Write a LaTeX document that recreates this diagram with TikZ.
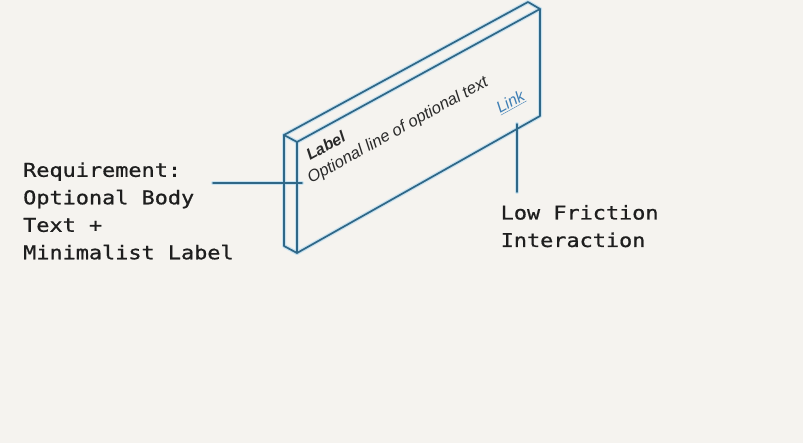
\documentclass[tikz,border=0pt]{standalone}
\usepackage{fontspec}
\setmainfont{Liberation Sans}
\newfontfamily\monof[FakeStretch=1.15,FakeBold=0.8]{DejaVu Sans Mono}
\definecolor{bgc}{HTML}{F5F3EF}
\definecolor{edgec}{HTML}{2F6787}
\definecolor{glowc}{HTML}{B4DAF0}
\definecolor{inkc}{HTML}{1E1E1E}
\definecolor{facetext}{HTML}{2A2A2A}
\definecolor{linkc}{HTML}{3F7FB5}
\tikzset{
  glowline/.style={draw=glowc, line width=4pt, line join=round, line cap=round, opacity=0.7},
  edgeline/.style={draw=edgec, line width=1.7pt, line join=round, line cap=round},
  monotext/.style={anchor=base west, align=left, inner sep=0pt, text=inkc,
    font=\monof\fontsize{19}{27.5}\selectfont},
  facelabel/.style={anchor=base west, inner sep=0pt, rotate=29, text=facetext}
}
\begin{document}
\begin{tikzpicture}[x=1pt,y=-1pt]
\fill[bgc] (0,0) rectangle (803,443);
\useasboundingbox (0,0) rectangle (803,443);
% slab corners
\coordinate (A) at (297,142);
\coordinate (B) at (540,9);
\coordinate (C) at (540,116);
\coordinate (D) at (297,253);
\coordinate (A2) at (284,135);
\coordinate (B2) at (528,2);
\coordinate (D2) at (284,246);
% connector ends
\coordinate (reqend) at (213,183);
\coordinate (faceend) at (302,183);
\coordinate (linktop) at (517,124);
\coordinate (linkbot) at (517,192);
% glow + edges
\foreach \s in {glowline,edgeline}{
  \path[\s] (A) -- (B) -- (C) -- (D) -- cycle;
  \path[\s] (A) -- (A2) -- (B2) -- (B);
  \path[\s] (A2) -- (D2) -- (D);
  \path[\s] (reqend) -- (faceend);
  \path[\s] (linktop) -- (linkbot);
}
% texts on the face
\node[facelabel, font=\bfseries\itshape\fontsize{16}{18}\selectfont] (lab) at (310,161) {Label};
\node[facelabel, font=\itshape\fontsize{16.5}{18}\selectfont] (opt) at (311,184) {Optional line of optional text};
\node[facelabel, text=linkc, font=\itshape\fontsize{16}{18}\selectfont] (lnk) at (500,114) {\underline{Link}};
% annotations (base anchor = last line)
\node[monotext] (req) at (23,259.3) {Requirement:\\Optional Body\\Text +\\Minimalist Label};
\node[monotext] (lfi) at (500.5,247) {Low Friction\\Interaction};
\end{tikzpicture}
\end{document}
